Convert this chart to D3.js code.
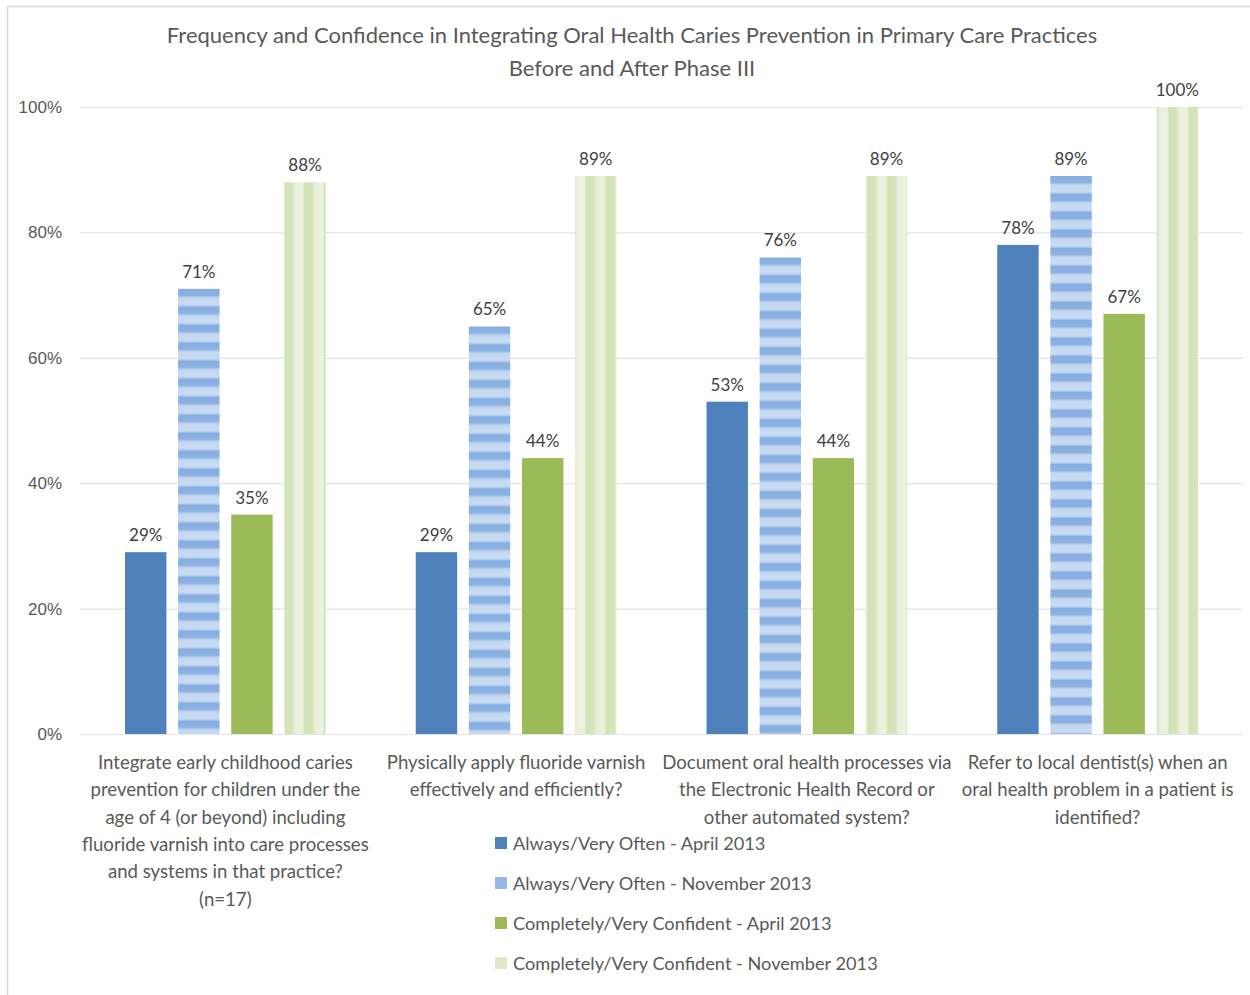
<!DOCTYPE html>
<html>
<head>
<meta charset="utf-8">
<script src="https://cdn.jsdelivr.net/npm/d3@7"></script>
<style>
  html, body { margin: 0; padding: 0; background: #fff; }
  svg { display: block; font-family: Lato, "Open Sans", sans-serif; }
</style>
</head>
<body>
<svg id="chart" width="1250" height="995"></svg>
<script>
// Survey questions (x categories), one line per array entry
const categories = [
  ["Integrate early childhood caries", "prevention for children under the", "age of 4 (or beyond) including", "fluoride varnish into care processes", "and systems in that practice?", "(n=17)"],
  ["Physically apply fluoride varnish", "effectively and efficiently?"],
  ["Document oral health processes via", "the Electronic Health Record or", "other automated system?"],
  ["Refer to local dentist(s) when an", "oral health problem in a patient is", "identified?"]
];

const seriesNames = [
  "Always/Very Often - April 2013",
  "Always/Very Often - November 2013",
  "Completely/Very Confident - April 2013",
  "Completely/Very Confident - November 2013"
];

// Percent of respondents, one value per question
const alwaysApril    = [29, 29, 53, 78];
const alwaysNovember = [71, 65, 76, 89];
const confApril      = [35, 44, 44, 67];
const confNovember   = [88, 89, 89, 100];

const yTicks = [0, 20, 40, 60, 80, 100];

const titleLines = [
  "Frequency and Confidence in Integrating Oral Health Caries Prevention in Primary Care Practices",
  "Before and After Phase III"
];

const seriesValues = [alwaysApril, alwaysNovember, confApril, confNovember];

const svg = d3.select("#chart");
const defs = svg.append("defs");

// Soft gradients used inside the stripe patterns
const hg = defs.append("linearGradient").attr("id", "hgrad")
  .attr("x1", 0).attr("y1", 0).attr("x2", 0).attr("y2", 1);
[[0, "#86ade0"], [0.36, "#8cb2e3"], [0.5, "#c3d7f0"], [0.88, "#c8dbf2"], [1, "#9dbde7"]]
  .forEach(([o, c]) => hg.append("stop").attr("offset", o).attr("stop-color", c));

const vg = defs.append("linearGradient").attr("id", "vgrad")
  .attr("x1", 0).attr("y1", 0).attr("x2", 1).attr("y2", 0);
[[0, "#d3e2b6"], [0.4, "#d6e4bb"], [0.55, "#e9f0dc"], [0.9, "#edf3e1"], [1, "#dbe7c4"]]
  .forEach(([o, c]) => vg.append("stop").attr("offset", o).attr("stop-color", c));

const plot = { left: 80, right: 1243, top: 107, bottom: 734 };

const x0 = d3.scaleBand().domain(d3.range(categories.length))
  .range([plot.left, plot.right]).padding(0);
const x1 = d3.scaleBand().domain(d3.range(seriesNames.length))
  .range([45, x0.bandwidth() - 45]).paddingInner(0.22).paddingOuter(0);
const y = d3.scaleLinear().domain([0, 100]).range([plot.bottom, plot.top]);

// One pattern per bar so the stripes start at each bar's edge
function stripePattern(id, si, bx, by) {
  if (si === 1) {
    const p = defs.append("pattern").attr("id", id)
      .attr("patternUnits", "userSpaceOnUse").attr("width", 10).attr("height", 18)
      .attr("x", bx).attr("y", by);
    p.append("rect").attr("width", 10).attr("height", 18).attr("fill", "url(#hgrad)");
  } else {
    const p = defs.append("pattern").attr("id", id)
      .attr("patternUnits", "userSpaceOnUse").attr("width", 20).attr("height", 10)
      .attr("x", bx).attr("y", by);
    p.append("rect").attr("width", 20).attr("height", 10).attr("fill", "url(#vgrad)");
  }
  return `url(#${id})`;
}

const solidFills = ["#4f81bd", null, "#9bbb59", null];
const legendFills = ["#4f81bd", "#95b8e6", "#9bbb59", "#dfe9ca"];

// Chart frame
svg.append("path")
  .attr("d", "M7.5,1000 V6.5 H1260")
  .attr("fill", "none").attr("stroke", "#d9d9d9").attr("stroke-width", 1.5);

// Gridlines and y tick labels
const yAxis = d3.axisLeft(y).tickValues(yTicks).tickFormat(d => d + "%")
  .tickSize(-(plot.right - plot.left)).tickPadding(18);
const ya = svg.append("g").attr("transform", `translate(${plot.left},0)`).call(yAxis);
ya.select(".domain").remove();
ya.selectAll(".tick line").attr("stroke", "#e3e3e3").attr("stroke-width", 1.2);
ya.selectAll(".tick text").attr("fill", "#595959").attr("font-size", 17);

// Bars
const groups = svg.append("g").selectAll("g")
  .data(categories).join("g")
  .attr("transform", (d, i) => `translate(${x0(i)},0)`);

groups.each(function(cat, ci) {
  const g = d3.select(this);
  seriesValues.forEach((vals, si) => {
    const v = vals[ci];
    const bx = x0(ci) + x1(si);
    const fill = solidFills[si] || stripePattern(`stripe-${ci}-${si}`, si, bx, y(v));
    g.append("rect")
      .attr("x", x1(si)).attr("width", x1.bandwidth())
      .attr("y", y(v)).attr("height", y(0) - y(v))
      .attr("fill", fill);
    g.append("text")
      .attr("x", x1(si) + x1.bandwidth() / 2)
      .attr("y", y(v) - 11)
      .attr("text-anchor", "middle")
      .attr("fill", "#404040").attr("font-size", 17)
      .text(v + "%");
  });
  // Category label
  const t = g.append("text")
    .attr("text-anchor", "middle").attr("fill", "#595959").attr("font-size", 18.6);
  cat.forEach((line, li) => {
    t.append("tspan").attr("x", x0.bandwidth() / 2)
      .attr("y", 769 + li * 27.3).text(line);
  });
});

// Title
const title = svg.append("text").attr("text-anchor", "middle")
  .attr("fill", "#595959").attr("font-size", 22);
titleLines.forEach((line, i) => {
  title.append("tspan").attr("x", 632).attr("y", 43 + i * 33).text(line);
});

// Legend
const legend = svg.append("g").selectAll("g")
  .data(seriesNames).join("g")
  .attr("transform", (d, i) => `translate(495,${843 + i * 40})`);
legend.append("rect").attr("x", 0).attr("y", -6).attr("width", 12).attr("height", 12)
  .attr("fill", (d, i) => legendFills[i]);
legend.append("text").attr("x", 18).attr("y", 6.5)
  .attr("fill", "#595959").attr("font-size", 18.2).text(d => d);
</script>
</body>
</html>
